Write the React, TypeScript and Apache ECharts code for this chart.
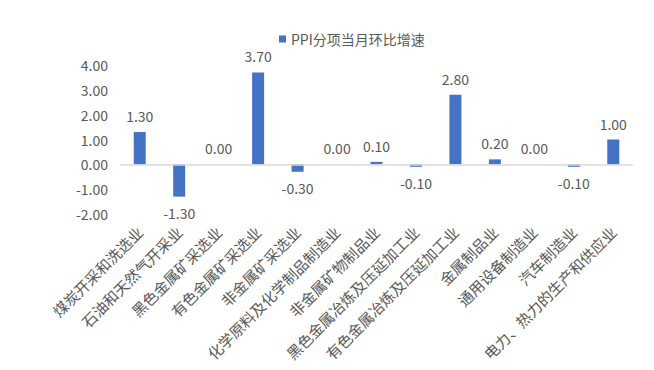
import React, { useEffect, useRef } from "react";
import * as echarts from "echarts";

const categories = [
  "煤炭开采和洗选业",
  "石油和天然气开采业",
  "黑色金属矿采选业",
  "有色金属矿采选业",
  "非金属矿采选业",
  "化学原料及化学制品制造业",
  "非金属矿物制品业",
  "黑色金属冶炼及压延加工业",
  "有色金属冶炼及压延加工业",
  "金属制品业",
  "通用设备制造业",
  "汽车制造业",
  "电力、热力的生产和供应业",
];
const values = [1.3, -1.3, 0.0, 3.7, -0.3, 0.0, 0.1, -0.1, 2.8, 0.2, 0.0, -0.1, 1.0];
const seriesName = "PPI分项当月环比增速";
const yMin = -2;
const yMax = 4;
const yInterval = 1;

const FONT = "'Noto Sans CJK SC', 'Noto Sans', sans-serif";
const GRAY = "#595959";

export default function App() {
  const ref = useRef<HTMLDivElement>(null);
  useEffect(() => {
    if (!ref.current) return;
    const chart = echarts.init(ref.current, undefined, { renderer: "svg" });
    chart.setOption({
      animation: false,
      textStyle: { fontFamily: FONT },
      legend: {
        left: 274,
        top: 27,
        icon: "rect",
        itemWidth: 7,
        itemHeight: 7,
        itemGap: 4,
        textStyle: { color: GRAY, fontSize: 14, fontFamily: FONT },
        data: [seriesName],
      },
      grid: { left: 120, right: 21, top: 65, bottom: 156 },
      xAxis: {
        type: "category",
        data: categories,
        axisLine: { show: false, onZero: false },
        axisTick: { show: false },
        axisLabel: {
          rotate: 45,
          interval: 0,
          margin: 15,
          color: GRAY,
          fontSize: 15,
          fontFamily: FONT,
        },
      },
      yAxis: {
        type: "value",
        min: yMin,
        max: yMax,
        interval: yInterval,
        axisLine: { show: false },
        axisTick: { show: false },
        splitLine: { show: false },
        axisLabel: {
          margin: 12,
          color: GRAY,
          fontSize: 14,
          fontFamily: FONT,
          formatter: (v: number) => v.toFixed(2),
        },
      },
      series: [
        {
          name: seriesName,
          type: "bar",
          barWidth: 12,
          itemStyle: { color: "#4472C4" },
          data: values.map((v) => ({
            value: v,
            label: { position: v < 0 ? "bottom" : "top" },
          })),
          label: {
            show: true,
            distance: 9,
            color: GRAY,
            fontSize: 14,
            fontFamily: FONT,
            formatter: (p: any) => Number(p.value).toFixed(2),
          },
          markLine: {
            silent: true,
            symbol: "none",
            label: { show: false },
            lineStyle: { color: "#d9d9d9", type: "solid", width: 1.5 },
            data: [{ yAxis: 0 }],
          },
          z: 3,
        },
      ],
    });
    return () => chart.dispose();
  }, []);
  return <div ref={ref} style={{ width: 654, height: 370, margin: -8 }} />;
}
